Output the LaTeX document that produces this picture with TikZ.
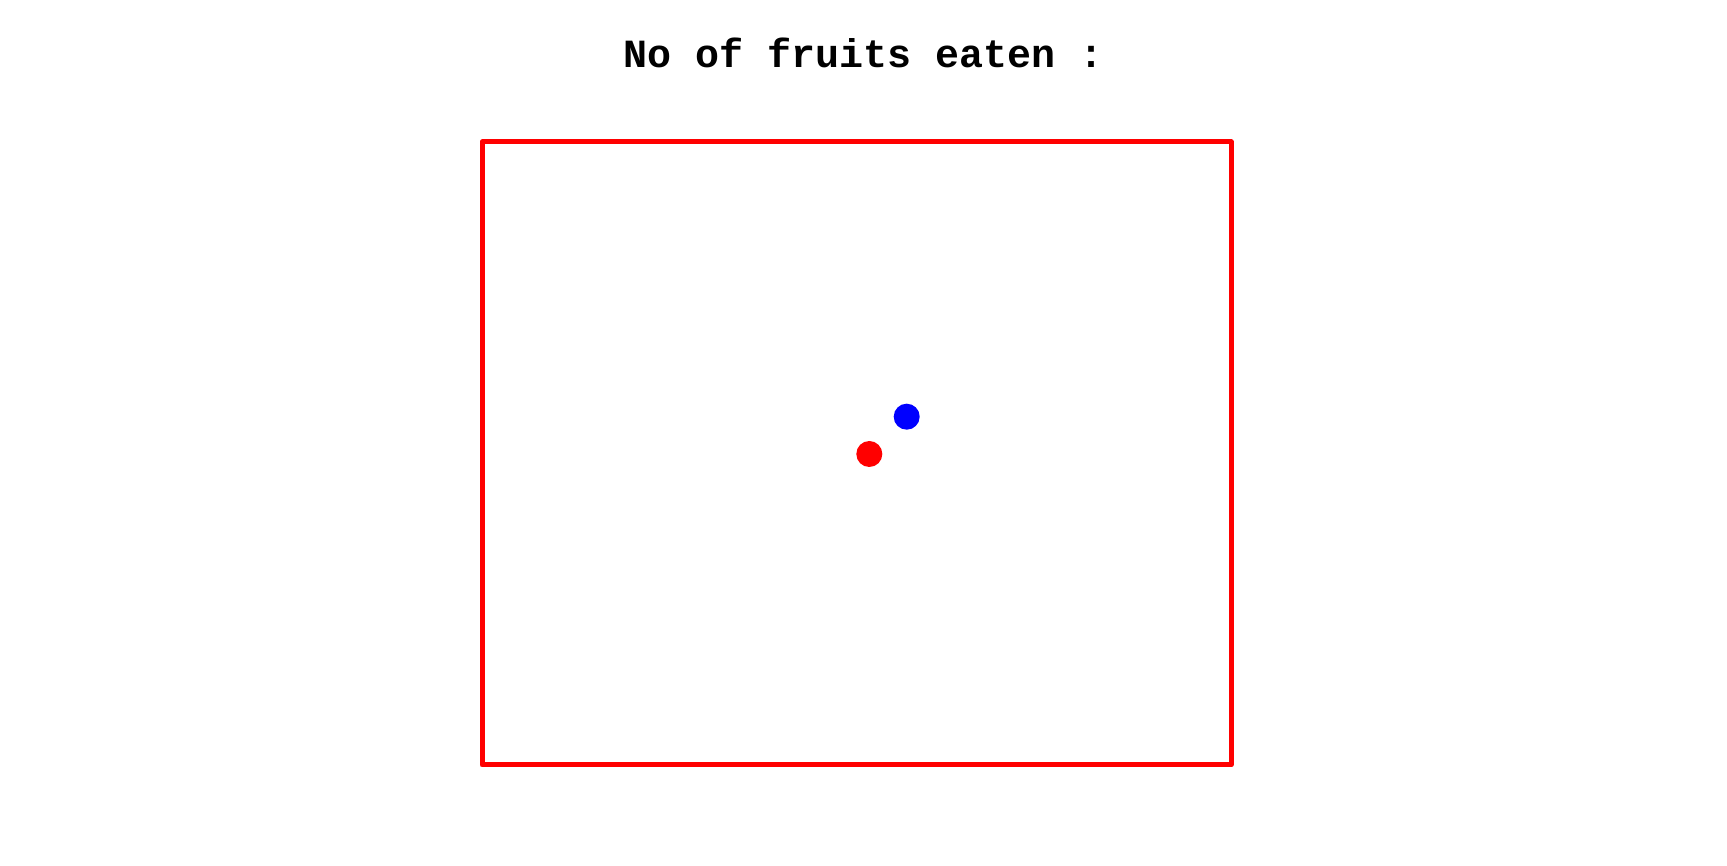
\documentclass[tikz,border=0pt]{standalone}
\usepackage{fontspec}
\newfontfamily\monofont{Liberation Mono}
\begin{document}
\begin{tikzpicture}[x=1pt,y=1pt,
  frame/.style={draw=red,line width=5pt,line join=round},
  dot/.style={circle,inner sep=0pt,minimum size=26pt},
  titletext/.style={font=\monofont\bfseries\fontsize{40}{48}\selectfont,inner sep=0pt,anchor=base}]
\useasboundingbox[fill=white] (0,0) rectangle (1727,866);
\node[titletext] (title) at (863.5,798) {No of fruits eaten :};
\draw[frame] (482,101) rectangle (1231,724);
\node[dot,fill=blue] (blue) at (906.7,449.3) {};
\node[dot,fill=red] (red) at (869.3,412) {};
\end{tikzpicture}
\end{document}
